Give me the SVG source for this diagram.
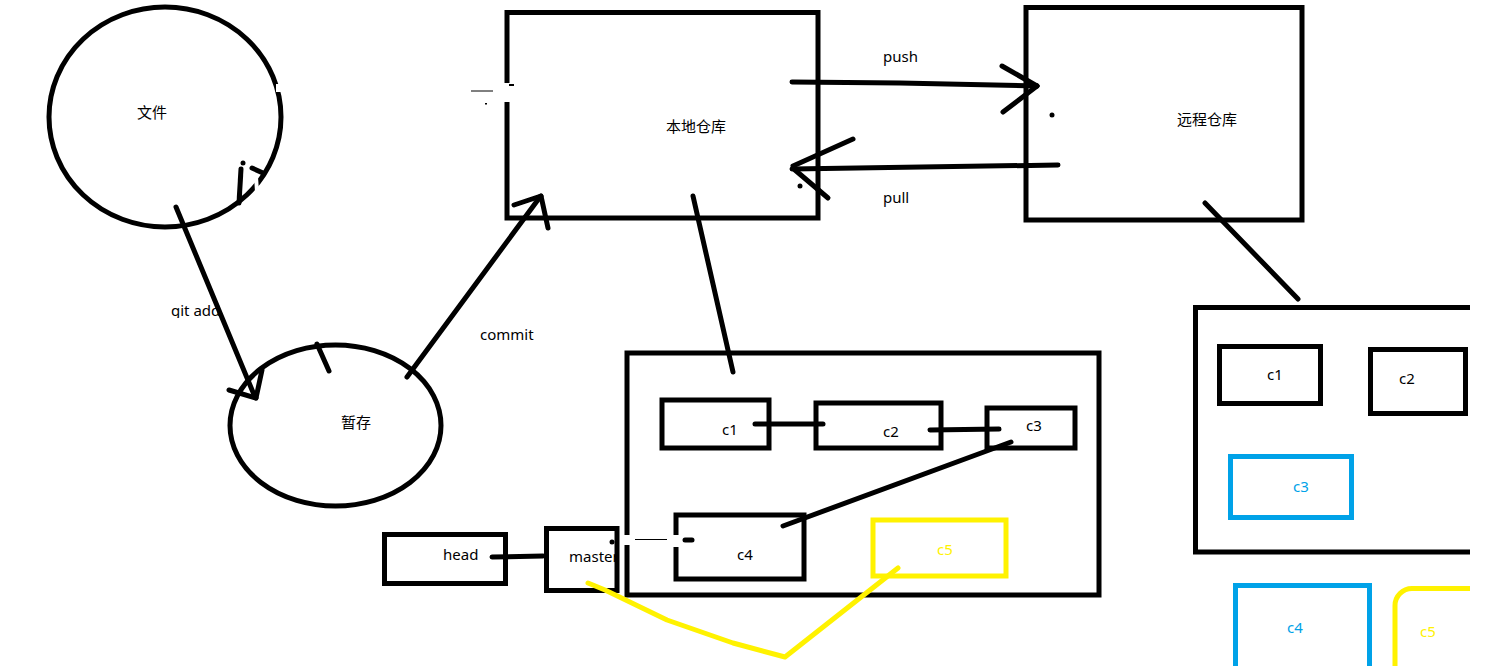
<svg xmlns="http://www.w3.org/2000/svg" width="1509" height="666" viewBox="0 0 1509 666">
<style>
.k{fill:none;stroke:#000;stroke-width:5;stroke-linecap:round}
.b{fill:none;stroke:#000;stroke-width:5}
.bl{fill:none;stroke:#00a2e8;stroke-width:5}
.y{fill:none;stroke:#fff200;stroke-width:5}
.yl{fill:none;stroke:#fff200;stroke-width:5;stroke-linecap:round;stroke-linejoin:round}
.w{fill:none;stroke:#fff;stroke-linecap:butt}
text{font-family:"Noto Sans","Noto Sans CJK SC",sans-serif;font-size:15px;fill:#000}
.tb{fill:#00a2e8}
.ty{fill:#fff200}
</style>
<defs>
<clipPath id="clipGit"><rect x="0" y="0" width="400" height="318"/></clipPath>
<clipPath id="clipMaster"><rect x="540" y="520" width="75" height="80"/></clipPath>
<clipPath id="clipRight"><rect x="0" y="0" width="1470" height="666"/></clipPath>
</defs>
<rect x="0" y="0" width="1509" height="666" fill="#fff"/>

<g id="file">
<ellipse class="b" cx="165" cy="117" rx="116" ry="110"/>
<line class="w" x1="281" y1="84" x2="281" y2="92" stroke-width="10"/>
<line class="w" x1="256" y1="177" x2="258" y2="206" stroke-width="4"/>
<circle cx="243" cy="163" r="2.5" fill="#000"/>
<line class="k" x1="241" y1="169" x2="239" y2="203" stroke-width="4"/>
<line class="k" x1="252" y1="168" x2="263" y2="173" stroke-width="4"/>
<text x="137" y="118">文件</text>
</g>

<g id="stage">
<ellipse class="b" cx="335.5" cy="425.5" rx="105.5" ry="80.5"/>
<line class="k" x1="317" y1="344" x2="329" y2="371"/>
<text x="341" y="428">暂存</text>
</g>

<g id="local">
<rect class="b" x="507" y="12.5" width="311" height="205.5"/>
<line class="w" x1="507" y1="83" x2="507" y2="102" stroke-width="8"/>
<line x1="471" y1="91" x2="493" y2="91" stroke="#000" stroke-width="1"/>
<rect x="485" y="103" width="2" height="1.5" fill="#000"/>
<rect x="509" y="84" width="5" height="2" fill="#000"/>
<text x="666" y="132">本地仓库</text>
</g>

<g id="remote">
<rect class="b" x="1026" y="7.5" width="276" height="212.5"/>
<text x="1177" y="125">远程仓库</text>
</g>

<g id="localCommits">
<rect class="b" x="627" y="353" width="472" height="242"/>
<line class="w" x1="627" y1="535" x2="627" y2="545" stroke-width="8"/>
<rect class="b" x="662" y="400" width="107" height="48"/>
<text x="722" y="435">c1</text>
<rect class="b" x="816" y="403" width="125" height="45"/>
<text x="883" y="437">c2</text>
<rect class="b" x="987" y="408" width="88" height="40"/>
<text x="1026" y="431">c3</text>
<rect class="b" x="676" y="515" width="128" height="64"/>
<line class="w" x1="676" y1="535" x2="676" y2="547" stroke-width="8"/>
<text x="737" y="560">c4</text>
<rect class="y" x="873" y="520" width="133" height="56"/>
<text class="ty" x="937" y="555">c5</text>
</g>

<g id="head">
<rect class="b" x="384.5" y="534.5" width="121" height="49"/>
<text x="443" y="560">head</text>
</g>

<g id="master">
<rect class="b" x="546.5" y="528.5" width="70.5" height="62"/>
<text x="569" y="562" clip-path="url(#clipMaster)">master</text>
</g>

<g id="remoteCommits" clip-path="url(#clipRight)">
<path class="b" d="M1480 307.5H1195.5V552H1480"/>
<rect class="b" x="1219.5" y="346.5" width="101" height="57"/>
<text x="1267" y="380">c1</text>
<rect class="b" x="1370.5" y="349.5" width="95" height="64"/>
<text x="1399" y="384">c2</text>
<rect class="bl" x="1230.5" y="456.5" width="121" height="61"/>
<text class="tb" x="1293" y="492">c3</text>
<rect class="bl" x="1235.5" y="585.5" width="134" height="100"/>
<text class="tb" x="1287" y="633">c4</text>
<rect class="y" x="1395" y="588.5" width="110" height="100" rx="17"/>
<text class="ty" x="1420" y="637">c5</text>
</g>

<g id="connectors">
<!-- git add -->
<line class="k" x1="176" y1="207" x2="255" y2="397"/>
<line class="k" x1="229" y1="390" x2="256" y2="398"/>
<line class="k" x1="262" y1="370" x2="256" y2="398"/>
<text x="171" y="316" clip-path="url(#clipGit)">git add</text>
<!-- commit -->
<line class="k" x1="407" y1="377" x2="540" y2="197"/>
<line class="k" x1="514" y1="205" x2="541" y2="196"/>
<line class="k" x1="548" y1="228" x2="541" y2="196"/>
<text x="480" y="340">commit</text>
<!-- push -->
<polyline class="k" points="792,82 900,83 1037,86"/>
<line class="k" x1="1002" y1="66" x2="1037" y2="86"/>
<line class="k" x1="1003" y1="112" x2="1037" y2="86"/>
<text x="883" y="62">push</text>
<circle cx="1052" cy="115" r="2.5" fill="#000"/>
<!-- pull -->
<line class="k" x1="1058" y1="165" x2="792" y2="169"/>
<line class="k" x1="853" y1="139" x2="793" y2="166"/>
<line class="k" x1="828" y1="198" x2="795" y2="170"/>
<circle cx="800" cy="186" r="2.5" fill="#000"/>
<text x="883" y="203">pull</text>
<!-- local to commits -->
<line class="k" x1="693" y1="196" x2="733" y2="372"/>
<!-- remote to commits -->
<line class="k" x1="1205" y1="203" x2="1298" y2="299"/>
<!-- commit chain -->
<line class="k" x1="755" y1="424" x2="823" y2="424"/>
<line class="k" x1="930" y1="430" x2="999" y2="429"/>
<line class="k" x1="1011" y1="442" x2="783" y2="526"/>
<!-- head to master -->
<line class="k" x1="492" y1="557" x2="543" y2="556"/>
<!-- master to c4 -->
<circle cx="612" cy="542" r="2.5" fill="#000"/>
<line x1="635" y1="539.5" x2="667" y2="539.5" stroke="#000" stroke-width="1"/>
<line class="k" x1="685" y1="540" x2="692" y2="540"/>
<!-- yellow -->
<polyline class="yl" points="588,583 605,590 667,620 733,643 785,657 898,568"/>
</g>
</svg>
